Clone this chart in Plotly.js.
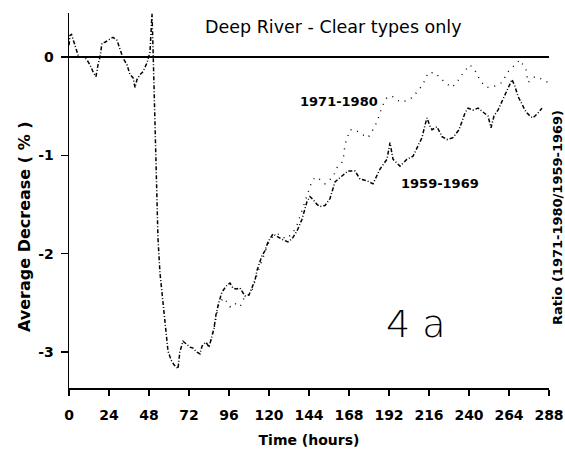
<!DOCTYPE html>
<html>
<head>
<meta charset="utf-8">
<script src="https://cdn.plot.ly/plotly-3.0.1.min.js"></script>
<style>html,body{margin:0;padding:0;background:#fff;}#chart{width:565px;height:452px;}</style>
</head>
<body>
<div id="chart"></div>
<script>
// Shared early portion (both periods overlap up to ~84 h)
const timeEarly = [0, 0.6, 1.5, 3, 4.2, 5.4, 7, 9, 10.8, 12.6, 14.4, 16.2, 17.4, 18.6, 19.8, 21.6, 23.4, 26.4, 28.8, 30.6, 32.4, 34.8, 36.6, 38.4, 39.6, 40.8, 42.6, 44.4, 46.8, 48.6, 49.8, 50.4, 51, 51.6, 52.2, 52.8, 53.4, 54.6, 55.8, 57, 58.2, 59.4, 61.2, 63, 65.4, 66.5, 68.4, 70.8, 72.6, 74.4, 76.5, 78.6, 79.8, 82.2, 84];
const valuesEarly = [0.12, 0.22, 0.23, 0.15, 0.1, 0.02, 0.0, 0.0, -0.03, -0.08, -0.15, -0.2, -0.08, 0.0, 0.14, 0.15, 0.17, 0.2, 0.17, 0.09, -0.01, -0.08, -0.18, -0.21, -0.31, -0.23, -0.18, -0.15, -0.06, 0.05, 0.44, 0.1, -0.3, -0.91, -1.2, -1.44, -1.85, -2.2, -2.4, -2.62, -2.86, -2.99, -3.08, -3.13, -3.17, -3.0, -2.89, -2.92, -2.95, -2.96, -3.0, -3.02, -2.94, -2.9, -2.95];

// 1959-1969 after divergence
const time1959 = [87, 88.2, 90, 91.8, 94.8, 96.6, 98.4, 100.5, 102.6, 105.6, 108, 110.4, 111.6, 112.8, 115.8, 117.6, 119.4, 122.4, 125.4, 128.4, 131.4, 133.8, 136.8, 139.8, 142.8, 144.6, 146.4, 148.8, 150.6, 153.6, 156.6, 159.6, 163.8, 167.4, 171.6, 174.6, 178.8, 182.4, 186.6, 190.8, 192.6, 194.4, 198.6, 202.8, 206.4, 209.4, 211.8, 213.5, 214.8, 216.5, 217.8, 220.8, 223.8, 226.8, 230.4, 234, 235.8, 237.6, 239.4, 242.4, 245.4, 248.4, 251.4, 253.2, 255, 257.4, 259.8, 262.2, 264, 265.8, 267.6, 269.4, 271.8, 274.2, 276.6, 278.4, 281.4, 283.8];
const values1959 = [-2.76, -2.62, -2.49, -2.39, -2.32, -2.3, -2.35, -2.36, -2.35, -2.43, -2.42, -2.33, -2.27, -2.17, -2.02, -1.97, -1.88, -1.8, -1.83, -1.86, -1.88, -1.85, -1.77, -1.65, -1.47, -1.42, -1.45, -1.5, -1.52, -1.51, -1.44, -1.27, -1.21, -1.16, -1.16, -1.24, -1.26, -1.29, -1.14, -1.04, -0.87, -1.04, -1.11, -1.04, -1.01, -0.91, -0.82, -0.7, -0.62, -0.7, -0.74, -0.71, -0.81, -0.84, -0.82, -0.74, -0.65, -0.57, -0.52, -0.54, -0.52, -0.56, -0.6, -0.72, -0.6, -0.54, -0.45, -0.37, -0.3, -0.23, -0.3, -0.4, -0.48, -0.56, -0.6, -0.62, -0.57, -0.52];

// 1971-1980 after divergence
const time1971 = [87, 90, 93, 96.6, 99, 102.6, 105.6, 108, 110.4, 113, 116, 119.4, 122.4, 126, 130, 134, 137, 140, 143, 145.8, 148, 151, 153.6, 156, 158.4, 161, 164.4, 165.6, 168.6, 171.6, 175, 179.4, 182, 184.8, 188, 190.8, 194, 197, 199.8, 203, 206.4, 209, 212.4, 215.4, 219.6, 222, 225.6, 229.8, 233, 237, 240.6, 244, 247, 250.8, 255, 259.8, 263.4, 267.6, 270.6, 274.2, 275.4, 279.6, 283, 287.4];
const values1971 = [-2.76, -2.5, -2.45, -2.54, -2.5, -2.54, -2.43, -2.42, -2.35, -2.2, -2.05, -1.9, -1.82, -1.8, -1.85, -1.8, -1.7, -1.55, -1.4, -1.26, -1.22, -1.25, -1.29, -1.25, -1.22, -1.12, -1.06, -0.89, -0.74, -0.74, -0.78, -0.82, -0.75, -0.66, -0.5, -0.41, -0.4, -0.44, -0.46, -0.44, -0.41, -0.35, -0.28, -0.16, -0.16, -0.2, -0.26, -0.31, -0.25, -0.15, -0.08, -0.15, -0.25, -0.31, -0.3, -0.26, -0.15, -0.08, -0.03, -0.13, -0.26, -0.2, -0.22, -0.26];

const xTickVals = [0, 24, 48, 72, 96, 120, 144, 168, 192, 216, 240, 264, 288];
const yTickVals = [0, -1, -2, -3];
const yTickText = ["0", "-1", "-2", "-3"];

const F = "DejaVu Sans, sans-serif";

const traces = [
  {
    x: timeEarly.concat(time1959), y: valuesEarly.concat(values1959),
    type: "scatter", mode: "lines", name: "1959-1969",
    line: {color: "#000", width: 1.5, dash: "4px,2px,1px,2px"}
  },
  {
    x: timeEarly.slice(-1).concat(time1971), y: valuesEarly.slice(-1).concat(values1971),
    type: "scatter", mode: "lines", name: "1971-1980",
    line: {color: "#000", width: 1.4, dash: "1px,6px"}
  }
];

function px(x) { return (x - 69) / 480; }
function py(y) { return (388 - y) / 375; }

const layout = {
  width: 565, height: 452,
  margin: {l: 69, r: 16, t: 13, b: 64},
  paper_bgcolor: "#fff", plot_bgcolor: "#fff",
  showlegend: false,
  font: {family: F, color: "#000", size: 14},
  xaxis: {
    range: [0, 288], tickvals: xTickVals, ticks: "outside", ticklen: 6, tickwidth: 1.5,
    tickcolor: "#000", showline: true, linecolor: "#000", linewidth: 1.5, showgrid: false,
    zeroline: false, ticklabelstandoff: 8,
    tickfont: {family: F, size: 14, weight: "bold"},
    title: {text: "Time (hours)", font: {family: F, size: 14, weight: "bold"}, standoff: 13}
  },
  yaxis: {
    range: [-3.366, 0.447], tickvals: yTickVals, ticktext: yTickText, ticks: "outside",
    ticklen: 7, tickwidth: 1.5, tickcolor: "#000", showline: true, linecolor: "#000",
    linewidth: 1.5, showgrid: false, zeroline: true, zerolinecolor: "#000", zerolinewidth: 1.5,
    ticklabelstandoff: 4,
    tickfont: {family: F, size: 14, weight: "bold"}
  },
  annotations: [
    {text: "Average Decrease ( % )", textangle: -90, xref: "paper", yref: "paper",
     x: px(24), y: py(227), xanchor: "center", yanchor: "middle", showarrow: false,
     font: {family: F, size: 16, weight: "bold"}},
    {text: "Deep River - Clear types only", xref: "paper", yref: "paper",
     x: px(333), y: py(27), xanchor: "center", yanchor: "middle", showarrow: false,
     font: {family: F, size: 17.5}},
    {text: "1971-1980", xref: "paper", yref: "paper",
     x: px(339), y: py(102), xanchor: "center", yanchor: "middle", showarrow: false,
     font: {family: F, size: 13, weight: "bold"}},
    {text: "1959-1969", xref: "paper", yref: "paper",
     x: px(440), y: py(184), xanchor: "center", yanchor: "middle", showarrow: false,
     font: {family: F, size: 13, weight: "bold"}},
    {text: "4 a", xref: "paper", yref: "paper",
     x: px(416), y: py(324), xanchor: "center", yanchor: "middle", showarrow: false,
     font: {family: F, size: 38, weight: 200}},
    {text: "Ratio (1971-1980/1959-1969)", textangle: -90, xref: "paper", yref: "paper",
     x: px(557), y: py(218), xanchor: "center", yanchor: "middle", showarrow: false,
     font: {family: F, size: 13, weight: "bold"}}
  ]
};

Plotly.newPlot("chart", traces, layout, {staticPlot: true, displayModeBar: false});
</script>
</body>
</html>
